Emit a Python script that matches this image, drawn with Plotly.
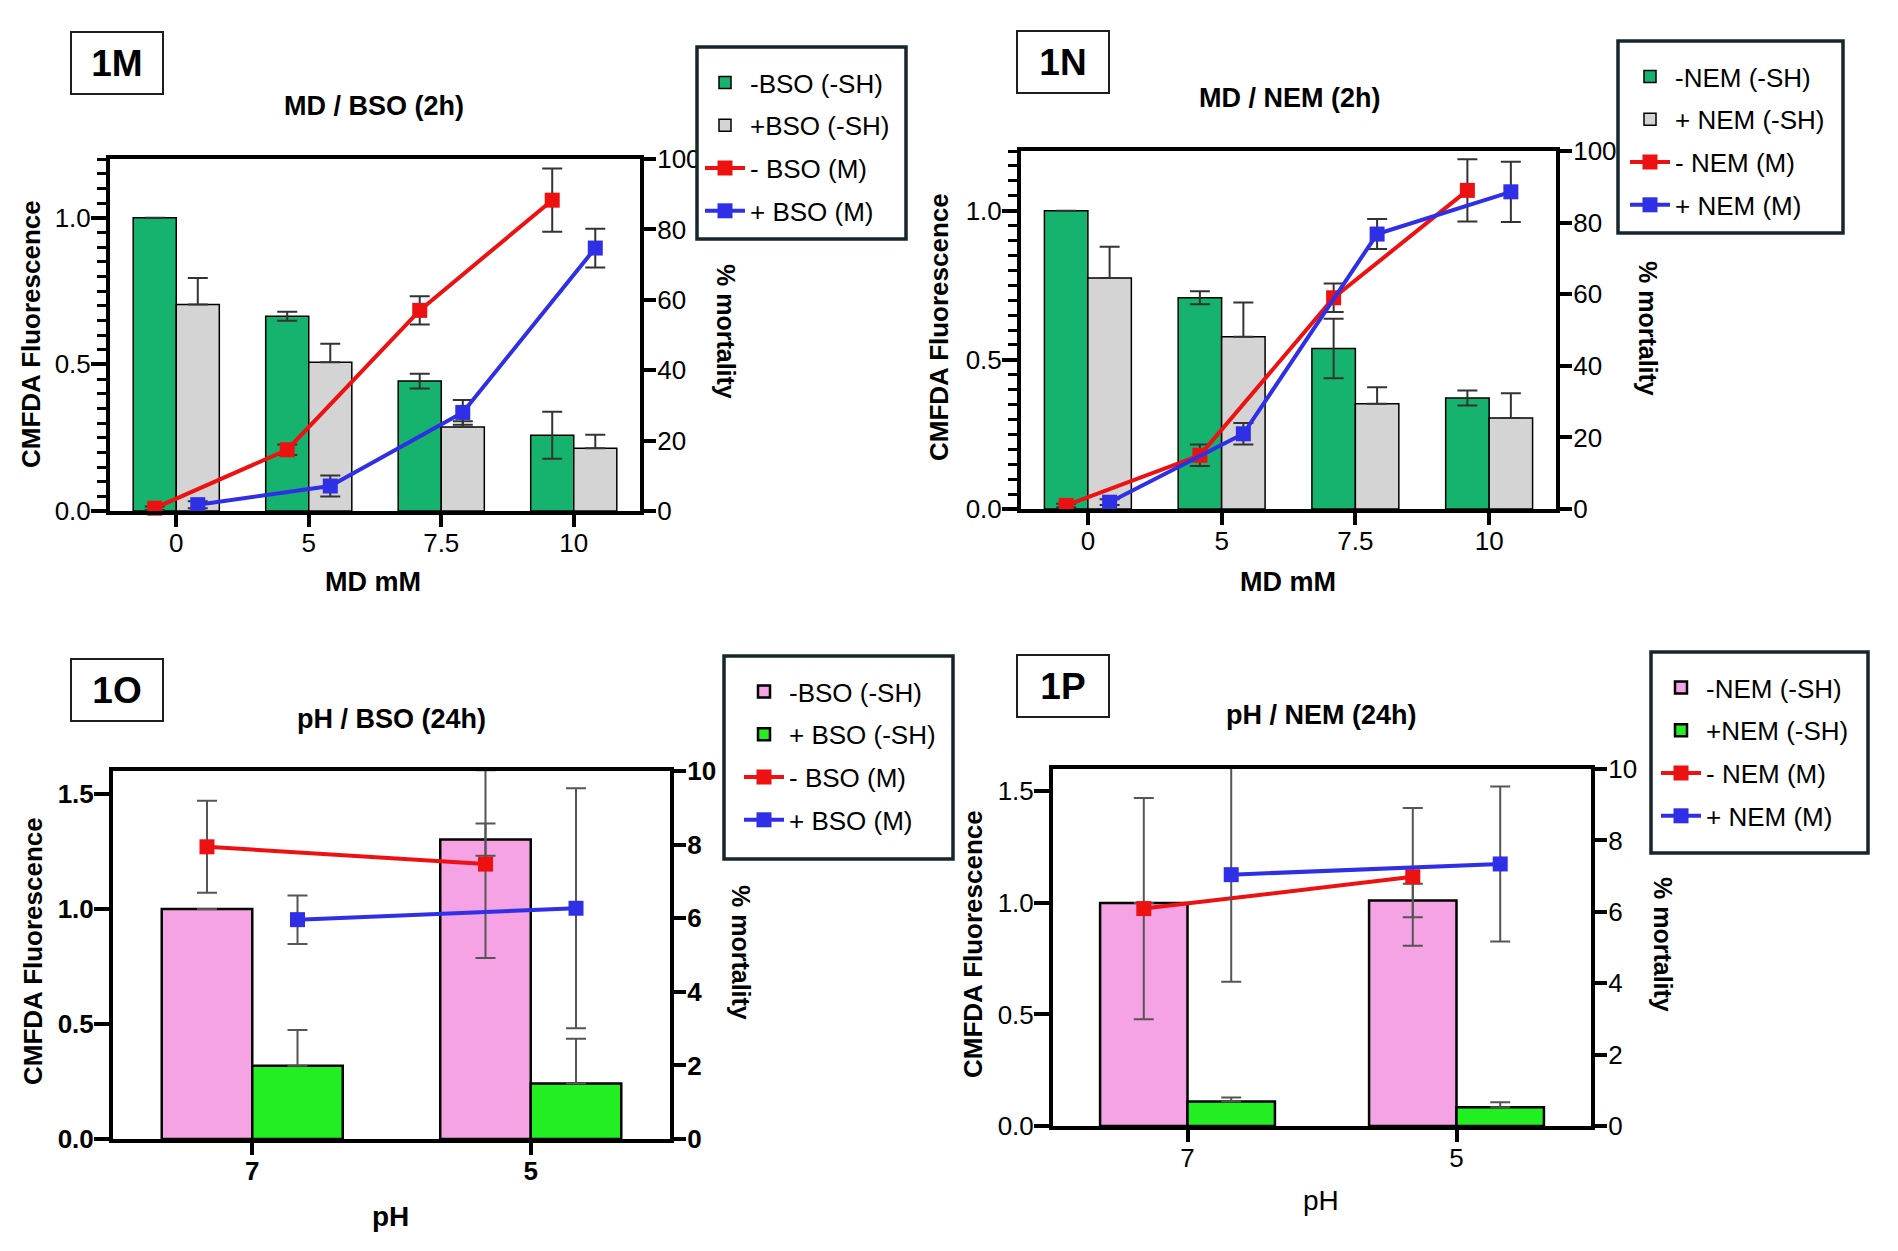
import plotly.graph_objects as go

W, H = 1898, 1251
FONT = "Liberation Sans, Arial, Helvetica, sans-serif"

# ---------------- data ----------------
md_categories = ["0", "5", "7.5", "10"]
ph_categories = ["7", "5"]

# 1M  MD / BSO (2h)
m_minus_bso_sh = [1.0, 0.664, 0.443, 0.258]
m_minus_bso_sh_err = [0.0, 0.015, 0.025, 0.08]
m_plus_bso_sh = [0.704, 0.507, 0.286, 0.214]
m_plus_bso_sh_err = [0.09, 0.063, 0.02, 0.046]
m_minus_bso_mort = [0.8, 17.4, 57.0, 88.3]
m_minus_bso_mort_err = [0.5, 1.5, 4.0, 9.0]
m_plus_bso_mort = [1.8, 7.1, 28.0, 74.7]
m_plus_bso_mort_err = [1.0, 3.0, 3.5, 5.5]

# 1N  MD / NEM (2h)
n_minus_nem_sh = [1.0, 0.708, 0.538, 0.372]
n_minus_nem_sh_err = [0.0, 0.022, 0.1, 0.025]
n_plus_nem_sh = [0.774, 0.577, 0.353, 0.305]
n_plus_nem_sh_err = [0.105, 0.115, 0.055, 0.083]
n_minus_nem_mort = [1.0, 15.0, 59.0, 89.0]
n_minus_nem_mort_err = [0.5, 3.0, 4.0, 8.7]
n_plus_nem_mort = [1.9, 21.0, 76.8, 88.6]
n_plus_nem_mort_err = [0.8, 3.0, 4.2, 8.4]

# 1O  pH / BSO (24h)
o_minus_bso_sh = [1.0, 1.302]
o_minus_bso_sh_err = [0.0, 0.07]
o_plus_bso_sh = [0.319, 0.241]
o_plus_bso_sh_err = [0.155, 0.195]
o_minus_bso_mort = [7.94, 7.47]
o_minus_bso_mort_err = [1.25, 2.55]
o_plus_bso_mort = [5.96, 6.27]
o_plus_bso_mort_err = [0.66, 3.26]

# 1P  pH / NEM (24h)
p_minus_nem_sh = [1.0, 1.011]
p_minus_nem_sh_err = [0.0, 0.075]
p_plus_nem_sh = [0.11, 0.084]
p_plus_nem_sh_err = [0.018, 0.022]
p_minus_nem_mort = [6.09, 6.98]
p_minus_nem_mort_err = [3.1, 1.93]
p_plus_nem_mort = [7.04, 7.34]
p_plus_nem_mort_err = [3.0, 2.17]

# ---------------- style ----------------
GREEN = "#16b36e"
GREY = "#d4d4d4"
PINK = "#f5a3e4"
LIME = "#22ee22"
RED = "#ee1111"
BLUE = "#2f2fe6"
BARGAP = 0.35


def px(x):
    return x / W


def py(y):
    return 1 - y / H


fig = go.Figure()


def add_panel(k, cats, bar_a, bar_a_err, bar_b, bar_b_err,
              line_a, line_a_err, line_b, line_b_err,
              names, bar_colors, bar_lw, err_color):
    xa = "x" if k == 1 else f"x{k}"
    yl = "y" if k == 1 else f"y{2 * k - 1}"
    yr = f"y{2 * k}"
    leg = "legend" if k == 1 else f"legend{k}"
    idx = list(range(len(cats)))
    half = (1 - BARGAP) / 4
    fig.add_trace(go.Bar(
        x=idx, y=bar_a, xaxis=xa, yaxis=yl, offsetgroup=f"{k}a",
        name=names[0], legend=leg, legendgroup=f"{k}a",
        marker=dict(color=bar_colors[0], line=dict(color="black", width=bar_lw)),
        error_y=dict(type="data", array=bar_a_err, symmetric=True,
                     color=err_color, thickness=2, width=10)))
    fig.add_trace(go.Bar(
        x=idx, y=bar_b, xaxis=xa, yaxis=yl, offsetgroup=f"{k}b",
        name=names[1], legend=leg, legendgroup=f"{k}b",
        marker=dict(color=bar_colors[1], line=dict(color="black", width=bar_lw)),
        error_y=dict(type="data", array=bar_b_err, arrayminus=[0] * len(bar_b_err),
                     symmetric=False, color=err_color, thickness=2, width=10)))
    fig.add_trace(go.Scatter(
        x=[i - half for i in idx], y=line_a, xaxis=xa, yaxis=yr,
        mode="lines+markers", name=names[2], legend=leg, legendgroup=f"{k}c",
        line=dict(color=RED, width=4),
        marker=dict(symbol="square", size=15, color=RED),
        error_y=dict(type="data", array=line_a_err, color=err_color, thickness=2, width=10),
        cliponaxis=False))
    fig.add_trace(go.Scatter(
        x=[i + half for i in idx], y=line_b, xaxis=xa, yaxis=yr,
        mode="lines+markers", name=names[3], legend=leg, legendgroup=f"{k}d",
        line=dict(color=BLUE, width=4),
        marker=dict(symbol="square", size=15, color=BLUE),
        error_y=dict(type="data", array=line_b_err, color=err_color, thickness=2, width=10),
        cliponaxis=False))


add_panel(1, md_categories, m_minus_bso_sh, m_minus_bso_sh_err, m_plus_bso_sh, m_plus_bso_sh_err,
          m_minus_bso_mort, m_minus_bso_mort_err, m_plus_bso_mort, m_plus_bso_mort_err,
          ["-BSO (-SH)", "+BSO (-SH)", "- BSO (M)", "+ BSO (M)"], [GREEN, GREY], 1.5, "#333333")
add_panel(2, md_categories, n_minus_nem_sh, n_minus_nem_sh_err, n_plus_nem_sh, n_plus_nem_sh_err,
          n_minus_nem_mort, n_minus_nem_mort_err, n_plus_nem_mort, n_plus_nem_mort_err,
          ["-NEM (-SH)", "+ NEM (-SH)", "- NEM (M)", "+ NEM (M)"], [GREEN, GREY], 1.5, "#333333")
add_panel(3, ph_categories, o_minus_bso_sh, o_minus_bso_sh_err, o_plus_bso_sh, o_plus_bso_sh_err,
          o_minus_bso_mort, o_minus_bso_mort_err, o_plus_bso_mort, o_plus_bso_mort_err,
          ["-BSO (-SH)", "+ BSO (-SH)", "- BSO (M)", "+ BSO (M)"], [PINK, LIME], 2.5, "#555555")
add_panel(4, ph_categories, p_minus_nem_sh, p_minus_nem_sh_err, p_plus_nem_sh, p_plus_nem_sh_err,
          p_minus_nem_mort, p_minus_nem_mort_err, p_plus_nem_mort, p_plus_nem_mort_err,
          ["-NEM (-SH)", "+NEM (-SH)", "- NEM (M)", "+ NEM (M)"], [PINK, LIME], 2.5, "#555555")

# ---------------- layout ----------------
panels = [
    dict(box=(110, 159, 640, 511), n=4, lmax=1.2, ldt=0.5, rmax=100, rdt=20, minor=True, bold=False,
         legbox=(697, 47, 906, 239), legdx=3),
    dict(box=(1021, 151, 1556, 509), n=4, lmax=1.2, ldt=0.5, rmax=100, rdt=20, minor=True, bold=False,
         legbox=(1618, 41, 1843, 233), legdx=7),
    dict(box=(113, 771, 670, 1139), n=2, lmax=1.6, ldt=0.5, rmax=10, rdt=2, minor=False, bold=True,
         legbox=(724, 656, 953, 859), legdx=15),
    dict(box=(1053, 769, 1591, 1126), n=2, lmax=1.6, ldt=0.5, rmax=10, rdt=2, minor=False, bold=False,
         legbox=(1651, 652, 1868, 853), legdx=5),
]
cats_by_panel = [md_categories, md_categories, ph_categories, ph_categories]

layout = dict(
    width=W, height=H, margin=dict(l=0, r=0, t=0, b=0, autoexpand=False),
    paper_bgcolor="white", plot_bgcolor="rgba(0,0,0,0)",
    barmode="group", bargap=BARGAP, bargroupgap=0,
    font=dict(family=FONT, color="black"),
    showlegend=True,
)
shapes = []

for i, p in enumerate(panels):
    k = i + 1
    x0, y0, x1, y1 = p["box"]
    xname = "xaxis" if k == 1 else f"xaxis{k}"
    ylname = "yaxis" if k == 1 else f"yaxis{2 * k - 1}"
    yrname = f"yaxis{2 * k}"
    xa = "x" if k == 1 else f"x{k}"
    yl = "y" if k == 1 else f"y{2 * k - 1}"
    cats = cats_by_panel[i]
    tfont = dict(family=FONT, size=26, color="black", weight="bold" if p["bold"] else "normal")
    layout[xname] = dict(
        domain=[px(x0), px(x1)], anchor=yl, range=[-0.5, p["n"] - 0.5], automargin=False,
        tickmode="array", tickvals=list(range(len(cats))), ticktext=cats,
        showline=True, linecolor="black", linewidth=4, mirror=True,
        ticks="outside", ticklen=12, tickwidth=4, tickcolor="black", ticklabelstandoff=-6,
        tickfont=tfont, showgrid=False, zeroline=False)
    ly = dict(
        domain=[py(y1), py(y0)], anchor=xa, range=[0, p["lmax"]], dtick=p["ldt"], tick0=0,
        automargin=False, ticklabelstandoff=-5,
        tickformat=".1f", showline=True, linecolor="black", linewidth=4,
        ticks="outside", ticklen=15, tickwidth=3.5, tickcolor="black",
        tickfont=tfont, showgrid=False, zeroline=False)
    if p["minor"]:
        ly["minor"] = dict(dtick=0.05, tick0=0, ticks="outside", ticklen=9, tickwidth=3,
                           tickcolor="black", showgrid=False)
    layout[ylname] = ly
    layout[yrname] = dict(
        overlaying=yl, side="right", anchor=xa, range=[0, p["rmax"]], dtick=p["rdt"], tick0=0,
        automargin=False, ticklabelstandoff=-4,
        showline=True, linecolor="black", linewidth=4,
        ticks="outside", ticklen=12, tickwidth=3.5, tickcolor="black",
        tickfont=tfont, showgrid=False, zeroline=False)
    lname = "legend" if k == 1 else f"legend{k}"
    bx0, by0, bx1, by1 = p["legbox"]
    shapes.append(dict(type="rect", xref="paper", yref="paper",
                       x0=px(bx0), x1=px(bx1), y0=py(by1), y1=py(by0),
                       line=dict(color="#17262d", width=3.5), fillcolor="white", layer="above"))
    layout[lname] = dict(
        x=px(bx0 + p["legdx"]), y=py(by0 + 12), xanchor="left", yanchor="top",
        bgcolor="rgba(0,0,0,0)", borderwidth=0,
        font=dict(family=FONT, size=26, color="black"),
        traceorder="grouped", tracegroupgap=6, itemwidth=40)

layout["shapes"] = shapes
fig.update_layout(**layout)

# ---------------- annotations ----------------
ann = []


def text(x, y, s, size, bold=True, angle=0):
    ann.append(dict(x=px(x), y=py(y), xref="paper", yref="paper", text=s, showarrow=False,
                    xanchor="center", yanchor="middle", textangle=angle,
                    font=dict(family=FONT, size=size, color="black",
                              weight="bold" if bold else "normal")))


def label_box(x, y, s):
    ann.append(dict(x=px(x), y=py(y), xref="paper", yref="paper", text=s, showarrow=False,
                    xanchor="center", yanchor="middle", width=90, height=60,
                    bordercolor="#1e1e1e", borderwidth=2, borderpad=0, bgcolor="white",
                    font=dict(family=FONT, size=37, color="black", weight="bold")))


label_box(117, 63, "1M")
label_box(1063, 62, "1N")
label_box(117, 690, "1O")
label_box(1063, 686, "1P")

text(374, 106, "MD / BSO (2h)", 27)
text(1290, 98, "MD / NEM (2h)", 27)
text(391, 719, "pH / BSO (24h)", 27)
text(1321, 715, "pH / NEM (24h)", 27)

text(31, 334, "CMFDA Fluorescence", 26, angle=-90)
text(939, 327, "CMFDA Fluorescence", 26, angle=-90)
text(33, 951, "CMFDA Fluorescence", 26, angle=-90)
text(973, 944, "CMFDA Fluorescence", 26, angle=-90)

text(726, 331, "% mortality", 25, angle=90)
text(1648, 328, "% mortality", 25, angle=90)
text(741, 952, "% mortality", 25, angle=90)
text(1663, 944, "% mortality", 25, angle=90)

text(373, 582, "MD mM", 27)
text(1288, 582, "MD mM", 27)
text(390, 1216, "pH", 28)
text(1321, 1200, "pH", 28, bold=False)

fig.update_layout(annotations=ann)

fig.write_html("out.html")
